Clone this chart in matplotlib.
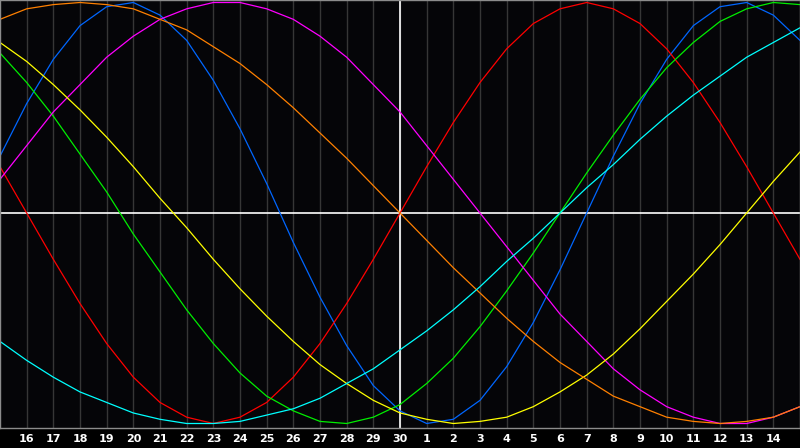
import matplotlib
matplotlib.use('Agg')
import matplotlib.pyplot as plt

# day of month for each point (15th of last month .. 15th of this month)
dates = [15, 16, 17, 18, 19, 20, 21, 22, 23, 24, 25, 26, 27, 28, 29, 30,
         1, 2, 3, 4, 5, 6, 7, 8, 9, 10, 11, 12, 13, 14, 15]

# daily cycle values in percent
physical = [27, 52, 73, 89, 98, 100, 94, 82, 63, 40, 14, -14, -40, -63, -82, -94,
            -100, -98, -89, -73, -52, -27, 0, 27, 52, 73, 89, 98, 100, 94, 82]
emotional = [22, 0, -22, -43, -62, -78, -90, -97, -100, -97, -90, -78, -62, -43, -22, 0,
             22, 43, 62, 78, 90, 97, 100, 97, 90, 78, 62, 43, 22, 0, -22]
intellectual = [76, 62, 46, 28, 10, -10, -28, -46, -62, -76, -87, -94, -99, -100, -97, -91,
                -81, -69, -54, -37, -19, 0, 19, 37, 54, 69, 81, 91, 97, 100, 99]
intuitive = [16, 32, 48, 61, 74, 84, 92, 97, 100, 100, 97, 92, 84, 74, 61, 48,
             32, 16, 0, -16, -32, -48, -61, -74, -84, -92, -97, -100, -100, -97, -92]
aesthetic = [81, 72, 61, 49, 36, 22, 7, -7, -22, -36, -49, -61, -72, -81, -89, -95,
             -98, -100, -99, -97, -92, -85, -77, -67, -55, -42, -29, -15, 0, 15, 29]
awareness = [92, 97, 99, 100, 99, 97, 92, 87, 79, 71, 61, 50, 38, 26, 13, 0,
             -13, -26, -38, -50, -61, -71, -79, -87, -92, -97, -99, -100, -99, -97, -92]
spiritual = [-61, -70, -78, -85, -90, -95, -98, -100, -100, -99, -96, -93, -88, -81, -74, -65,
             -56, -46, -35, -23, -12, 0, 12, 23, 35, 46, 56, 65, 74, 81, 88]

series = [physical, emotional, intellectual, intuitive, aesthetic, awareness, spiritual]
colors = ['#0066ff', '#ff0000', '#00ee00', '#ff00ff', '#ffff00', '#ff8000', '#00ffff']

fig = plt.figure(figsize=(8, 4.48), dpi=100, facecolor='black')
ax = fig.add_axes([0, 20.5 / 448, 1, 427 / 448])
ax.set_facecolor('#050508')

x = list(range(len(dates)))
ax.set_xlim(0, len(dates) - 1)
ax.set_ylim(-101.9, 100.95)

ax.set_xticks(x[1:-1])
ax.set_xticklabels([str(d) for d in dates[1:-1]], color='white',
                   fontsize=8, fontweight='bold')
ax.tick_params(axis='x', length=0, pad=4.5)
ax.set_yticks([])
ax.grid(axis='x', color='#363636', lw=1)

for s in ax.spines.values():
    s.set_color('#8c8c8c')
    s.set_linewidth(1)

ax.axvline(15, color='white', lw=1.2)
ax.axhline(0, color='white', lw=1.2)

for vals, c in zip(series, colors):
    ax.plot(x, vals, color=c, lw=0.9)

plt.savefig('out.png', dpi=100, facecolor='black')
